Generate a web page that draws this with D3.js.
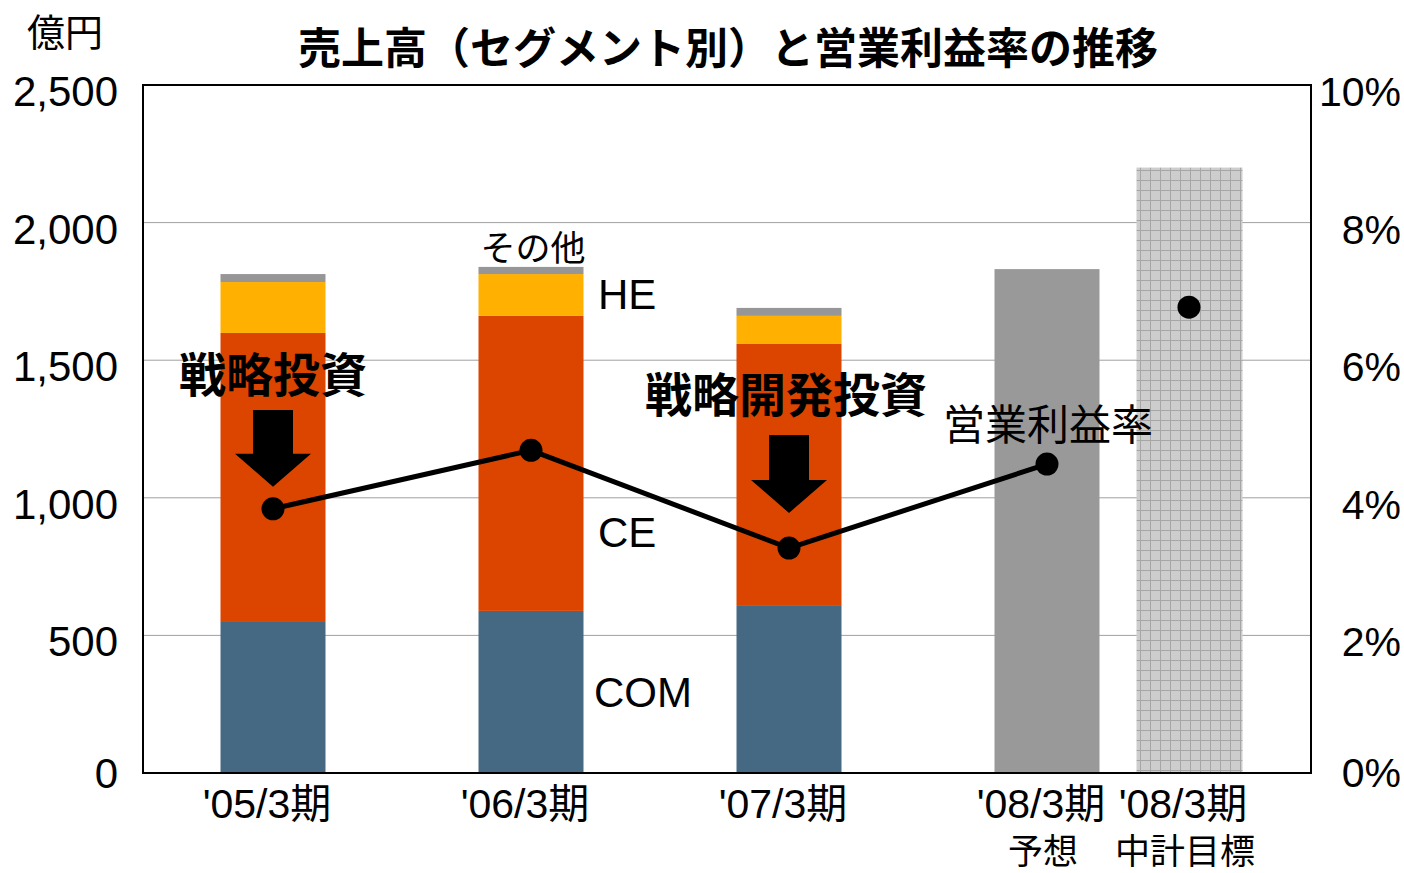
<!DOCTYPE html>
<html>
<head>
<meta charset="utf-8">
<script src="https://cdn.jsdelivr.net/npm/d3@7"></script>
<style>
  body { margin: 0; background: #fff; }
  text { font-family: 'Liberation Sans', 'Noto Sans CJK JP', sans-serif; fill: #000; }
  .jp { font-family: 'Noto Sans CJK JP', sans-serif; }
</style>
</head>
<body>
<svg id="chart" width="1404" height="873"></svg>
<script>
// data (億円, %)
const categories = ["'05/3期", "'06/3期", "'07/3期", "'08/3期", "'08/3期 "]
const subLabels = ['', '', '', '予想', '中計目標']
const comValues = [552, 589, 610]
const ceValues = [1047, 1072, 949]
const heValues = [185, 152, 102]
const otherValues = [29, 26, 29]
const forecastValue = 1831
const planValue = 2200
const marginRates = [3.84, 4.69, 3.27, 4.49]
const planRate = 6.77
const leftTicks = [0, 500, 1000, 1500, 2000, 2500]
const rightTicks = [0, 2, 4, 6, 8, 10]

const colors = { COM: '#466983', CE: '#dc4500', HE: '#ffb000', other: '#969696' }

const svg = d3.select('#chart')
const plotL = 143, plotR = 1311, plotT = 85, plotB = 773

const yL = d3.scaleLinear().domain([0, 2500]).range([plotB, plotT])
const yR = d3.scaleLinear().domain([0, 10]).range([plotB, plotT])
// the last two columns sit closer together than the first four
const x = d3.scaleOrdinal()
  .domain(categories)
  .range([273, 531, 789, 1047, 1189])
const barW = 105

const defs = svg.append('defs')
const pat = defs.append('pattern')
  .attr('id', 'grid')
  .attr('width', 10).attr('height', 10)
  .attr('patternUnits', 'userSpaceOnUse')
pat.append('rect').attr('width', 10).attr('height', 10).attr('fill', '#cdcdcd')
pat.append('path').attr('d', 'M0 0.5H10M0.5 0V10').attr('stroke', '#a6a6a6').attr('stroke-width', 1)

// gridlines
svg.append('g')
  .selectAll('line')
  .data(leftTicks.slice(1, -1))
  .enter()
  .append('line')
  .attr('x1', plotL).attr('x2', plotR)
  .attr('y1', d => yL(d)).attr('y2', d => yL(d))
  .attr('stroke', '#a0a0a0').attr('stroke-width', 1)

// stacked segment bars
const segRows = categories.slice(0, 3).map((c, i) => ({
  cat: c, COM: comValues[i], CE: ceValues[i], HE: heValues[i], other: otherValues[i]
}))
const stack = d3.stack().keys(['COM', 'CE', 'HE', 'other'])(segRows)

svg.append('g')
  .selectAll('g')
  .data(stack)
  .enter()
  .append('g')
  .attr('fill', d => colors[d.key])
  .selectAll('rect')
  .data(d => d)
  .enter()
  .append('rect')
  .attr('x', d => x(d.data.cat) - barW / 2)
  .attr('y', d => yL(d[1]))
  .attr('width', barW)
  .attr('height', d => yL(d[0]) - yL(d[1]))

svg.append('rect')
  .attr('x', x(categories[3]) - barW / 2)
  .attr('y', yL(forecastValue))
  .attr('width', barW)
  .attr('height', yL(0) - yL(forecastValue))
  .attr('fill', '#999999')

svg.append('rect')
  .attr('x', x(categories[4]) - barW / 2)
  .attr('y', yL(planValue))
  .attr('width', barW + 1)
  .attr('height', yL(0) - yL(planValue))
  .attr('fill', 'url(#grid)')

// frame
svg.append('rect')
  .attr('x', plotL).attr('y', plotT)
  .attr('width', plotR - plotL).attr('height', plotB - plotT)
  .attr('fill', 'none').attr('stroke', '#000').attr('stroke-width', 2)

// axis labels (the zero labels sit a little higher)
svg.append('g')
  .selectAll('text')
  .data(leftTicks)
  .enter()
  .append('text')
  .text(d => d3.format(',')(d))
  .attr('x', 118)
  .attr('y', d => yL(d) + (d === 0 ? 15 : 21))
  .attr('text-anchor', 'end')
  .style('font-size', '42px')

svg.append('g')
  .selectAll('text')
  .data(rightTicks)
  .enter()
  .append('text')
  .text(d => d + '%')
  .attr('x', 1401)
  .attr('y', d => yR(d) + (d === 0 ? 14 : 21))
  .attr('text-anchor', 'end')
  .style('font-size', '41px')

// category labels
svg.append('g')
  .selectAll('text')
  .data(categories)
  .enter()
  .append('text')
  .text(d => d.trim())
  .attr('x', d => x(d) - 6)
  .attr('y', 818)
  .attr('text-anchor', 'middle')
  .style('font-size', '41px')

svg.append('g')
  .selectAll('text')
  .data(subLabels)
  .enter()
  .append('text')
  .attr('class', 'jp')
  .text(d => d)
  .attr('x', (d, i) => x(categories[i]) - 4)
  .attr('y', 864)
  .attr('text-anchor', 'middle')
  .style('font-size', '35px')

// operating margin line
const line = d3.line()
  .x((d, i) => x(categories[i]))
  .y(d => yR(d))

svg.append('path')
  .datum(marginRates)
  .attr('d', line)
  .attr('fill', 'none')
  .attr('stroke', '#000')
  .attr('stroke-width', 5)

svg.append('g')
  .selectAll('circle')
  .data(marginRates.concat([planRate]))
  .enter()
  .append('circle')
  .attr('cx', (d, i) => x(categories[i]))
  .attr('cy', d => yR(d))
  .attr('r', 11.5)
  .attr('fill', '#000')

// arrows
const arrowTips = [[categories[0], 1040, 1319], [categories[2], 945, 1228]]
svg.append('g')
  .selectAll('path')
  .data(arrowTips)
  .enter()
  .append('path')
  .attr('d', d => {
    const cx = x(d[0]), tip = yL(d[1]), topY = yL(d[2])
    const headY = tip - 33
    return `M${cx - 20},${topY}H${cx + 20}V${headY}H${cx + 38}L${cx},${tip}L${cx - 38},${headY}H${cx - 20}Z`
  })
  .attr('fill', '#000')

// texts
svg.append('text').attr('class', 'jp')
  .text('売上高（セグメント別）と営業利益率の推移')
  .attr('x', 728).attr('y', 64)
  .attr('text-anchor', 'middle')
  .style('font-size', '43px').style('font-weight', 'bold')

svg.append('text').attr('class', 'jp')
  .text('億円')
  .attr('x', 27).attr('y', 46)
  .style('font-size', '38px')

svg.append('text').attr('class', 'jp')
  .text('戦略投資')
  .attr('x', x(categories[0])).attr('y', 392)
  .attr('text-anchor', 'middle')
  .style('font-size', '47px').style('font-weight', 'bold')

svg.append('text').attr('class', 'jp')
  .text('戦略開発投資')
  .attr('x', 786).attr('y', 412)
  .attr('text-anchor', 'middle')
  .style('font-size', '47px').style('font-weight', 'bold')

svg.append('text').attr('class', 'jp')
  .text('営業利益率')
  .attr('x', 1048).attr('y', 440)
  .attr('text-anchor', 'middle')
  .style('font-size', '42px')

svg.append('text').attr('class', 'jp')
  .text('その他')
  .attr('x', x(categories[1]) + 2).attr('y', 261)
  .attr('text-anchor', 'middle')
  .style('font-size', '35px')

const segLabels = [['HE', 1687, 598], ['CE', 821, 598], ['COM', 240, 594]]
svg.append('g')
  .selectAll('text')
  .data(segLabels)
  .enter()
  .append('text')
  .text(d => d[0])
  .attr('x', d => d[2])
  .attr('y', d => yL(d[1]))
  .style('font-size', '42px')
</script>
</body>
</html>
